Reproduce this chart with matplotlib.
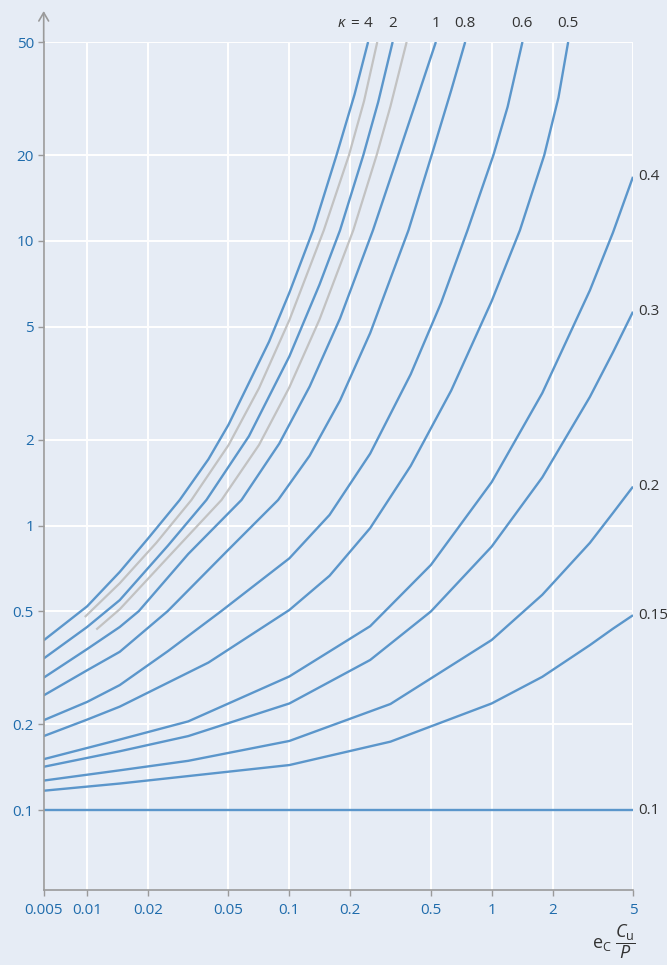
import matplotlib.pyplot as plt
from matplotlib.ticker import FixedLocator, NullLocator

plt.rcParams['font.family'] = ['Open Sans', 'DejaVu Sans']
plt.rcParams['mathtext.fontset'] = 'custom'
plt.rcParams['mathtext.rm'] = 'Open Sans'
plt.rcParams['mathtext.it'] = 'Open Sans:italic'

# left end of the axis is drawn compressed and labelled 0.005
x0 = 0.0061

x_k4 = [x0, 0.01, 0.0145, 0.02, 0.0287, 0.0398, 0.05, 0.0794, 0.1, 0.131, 0.171, 0.21, 0.245]
y_k4 = [0.395, 0.52, 0.687, 0.90, 1.23, 1.71, 2.26, 4.43, 6.58, 10.9, 20, 32.7, 50]
x_g1 = [0.00974, 0.0145, 0.022, 0.0328, 0.0501, 0.0708, 0.1, 0.148, 0.197, 0.234, 0.272]
y_g1 = [0.477, 0.627, 0.87, 1.23, 1.92, 3.04, 5.27, 10.9, 20, 31, 50]
x_k2 = [x0, 0.01, 0.0145, 0.0251, 0.0389, 0.0631, 0.1, 0.141, 0.178, 0.232, 0.275, 0.324]
y_k2 = [0.341, 0.44, 0.547, 0.85, 1.23, 2.06, 3.93, 7.03, 10.9, 20, 30.8, 50]
x_g2 = [0.0111, 0.0145, 0.0251, 0.0462, 0.0708, 0.1, 0.141, 0.207, 0.27, 0.316, 0.38]
y_g2 = [0.431, 0.508, 0.773, 1.23, 1.92, 3.06, 5.3, 10.9, 20, 29.7, 50]
x_k1 = [x0, 0.01, 0.0145, 0.018, 0.0316, 0.058, 0.0891, 0.126, 0.178, 0.259, 0.345, 0.427, 0.53]
y_k1 = [0.292, 0.368, 0.44, 0.5, 0.794, 1.23, 1.94, 3.08, 5.34, 10.9, 20, 31.5, 50]
x_k08 = [x0, 0.01, 0.0145, 0.025, 0.0501, 0.088, 0.126, 0.178, 0.251, 0.388, 0.505, 0.631, 0.74]
y_k08 = [0.253, 0.31, 0.36, 0.5, 0.824, 1.23, 1.76, 2.75, 4.75, 10.9, 20, 33.8, 50]
x_k06 = [x0, 0.01, 0.0145, 0.0251, 0.046, 0.1, 0.158, 0.251, 0.398, 0.562, 0.76, 1.02, 1.2, 1.42]
y_k06 = [0.207, 0.24, 0.275, 0.362, 0.5, 0.767, 1.09, 1.79, 3.4, 6.05, 10.9, 20, 29.6, 50]
x_k05 = [x0, 0.01, 0.0145, 0.0398, 0.1, 0.158, 0.251, 0.398, 0.631, 1.0, 1.38, 1.82, 2.14, 2.39]
y_k05 = [0.182, 0.208, 0.231, 0.33, 0.505, 0.666, 0.98, 1.62, 2.98, 6.14, 10.9, 20, 31.9, 50]
x_k04 = [x0, 0.0145, 0.0316, 0.1, 0.251, 0.501, 1, 1.78, 3.06, 3.98, 5]
y_k04 = [0.151, 0.177, 0.205, 0.295, 0.443, 0.727, 1.42, 2.92, 6.7, 10.7, 16.8]
x_k03 = [x0, 0.0145, 0.0316, 0.1, 0.251, 0.501, 1, 1.78, 3.06, 3.98, 5]
y_k03 = [0.142, 0.161, 0.182, 0.237, 0.337, 0.499, 0.843, 1.476, 2.83, 4.06, 5.64]
x_k02 = [x0, 0.0145, 0.0316, 0.1, 0.316, 1, 1.78, 3.06, 3.98, 5]
y_k02 = [0.127, 0.138, 0.149, 0.175, 0.236, 0.396, 0.571, 0.869, 1.107, 1.37]
x_k015 = [x0, 0.0145, 0.1, 0.316, 1, 1.78, 3.06, 3.98, 5]
y_k015 = [0.117, 0.124, 0.144, 0.174, 0.237, 0.294, 0.38, 0.434, 0.484]
x_k01 = [x0, 5]
y_k01 = [0.1, 0.1]

top_labels = ['4', '2', '1', '0.8', '0.6', '0.5']
right_labels = ['0.4', '0.3', '0.2', '0.15', '0.1']

xticks = [x0, 0.01, 0.02, 0.05, 0.1, 0.2, 0.5, 1, 2, 5]
xticklabels = ['0.005', '0.01', '0.02', '0.05', '0.1', '0.2', '0.5', '1', '2', '5']
yticks = [0.1, 0.2, 0.5, 1, 2, 5, 10, 20, 50]
yticklabels = ['0.1', '0.2', '0.5', '1', '2', '5', '10', '20', '50']

bg = '#e6ecf5'
blue = '#5b96cb'
grey = '#c2c2c2'
tick_blue = '#1f6cac'
dark = '#333333'
fs = 11

fig = plt.figure(figsize=(6.67, 9.65), dpi=100, facecolor=bg)
ax = fig.add_axes([43.7 / 667, 75 / 965, (633 - 43.7) / 667, 848 / 965])
ax.set_facecolor(bg)
ax.set_xscale('log')
ax.set_yscale('log')
ax.set_xlim(x0, 5)
ax.set_ylim(0.0524, 50)

ax.xaxis.set_major_locator(FixedLocator(xticks))
ax.xaxis.set_minor_locator(NullLocator())
ax.set_xticklabels(xticklabels)
ax.yaxis.set_major_locator(FixedLocator(yticks))
ax.yaxis.set_minor_locator(NullLocator())
ax.set_yticklabels(yticklabels)
ax.grid(True, color='white', lw=1.4)
ax.set_axisbelow(True)
for s in ['top', 'right']:
    ax.spines[s].set_visible(False)
for s in ['left', 'bottom']:
    ax.spines[s].set_color('#9a9a9a')
    ax.spines[s].set_linewidth(1.2)
ax.tick_params(colors='#9a9a9a', length=4, width=1, labelcolor=tick_blue,
               labelsize=fs)
ax.tick_params(axis='x', pad=5)
ax.tick_params(axis='y', pad=3)

# grey curves
for xs, ys in [(x_g1, y_g1), (x_g2, y_g2)]:
    ax.plot(xs, ys, color=grey, lw=1.6, solid_capstyle='butt')

blue_curves = [(x_k4, y_k4), (x_k2, y_k2), (x_k1, y_k1), (x_k08, y_k08),
               (x_k06, y_k06), (x_k05, y_k05), (x_k04, y_k04), (x_k03, y_k03),
               (x_k02, y_k02), (x_k015, y_k015), (x_k01, y_k01)]
for xs, ys in blue_curves:
    ax.plot(xs, ys, color=blue, lw=1.7, solid_capstyle='butt')

# labels at the top, above where each curve leaves the chart
for (xs, ys), lab in zip(blue_curves[:6], top_labels):
    ax.annotate(lab, (xs[-1], 50), xytext=(0, 13.5), textcoords='offset points',
                ha='center', va='center', color=dark, fontsize=fs,
                annotation_clip=False)
ax.annotate('=', (x_k4[-1], 50), xytext=(-6.5, 13.5), textcoords='offset points',
            ha='right', va='center', color=dark, fontsize=fs,
            annotation_clip=False)
ax.annotate('\u03ba', (x_k4[-1], 50), xytext=(-16.5, 13.5), textcoords='offset points',
            ha='right', va='center', color=dark, fontsize=fs, style='italic',
            annotation_clip=False)

# labels at the right end
for (xs, ys), lab in zip(blue_curves[6:], right_labels):
    ax.annotate(lab, (xs[-1], ys[-1]), xytext=(3.5, 0), textcoords='offset points',
                ha='left', va='center', color=dark, fontsize=fs,
                annotation_clip=False)

# arrow on top of the y axis
ax.annotate('', xy=(0, 1 + 31 / 848), xytext=(0, 1), xycoords='axes fraction',
            arrowprops=dict(arrowstyle='->,head_length=0.6,head_width=0.35',
                            color='#9a9a9a', lw=1.2, shrinkA=0, shrinkB=0))

fig.text(614 / 667, 1 - 942 / 965, r'$\mathrm{e_C}\;\dfrac{C_\mathrm{u}}{P}$',
         ha='center', va='center', color=dark, fontsize=13)

fig.savefig('out.png', dpi=100, facecolor=bg)
